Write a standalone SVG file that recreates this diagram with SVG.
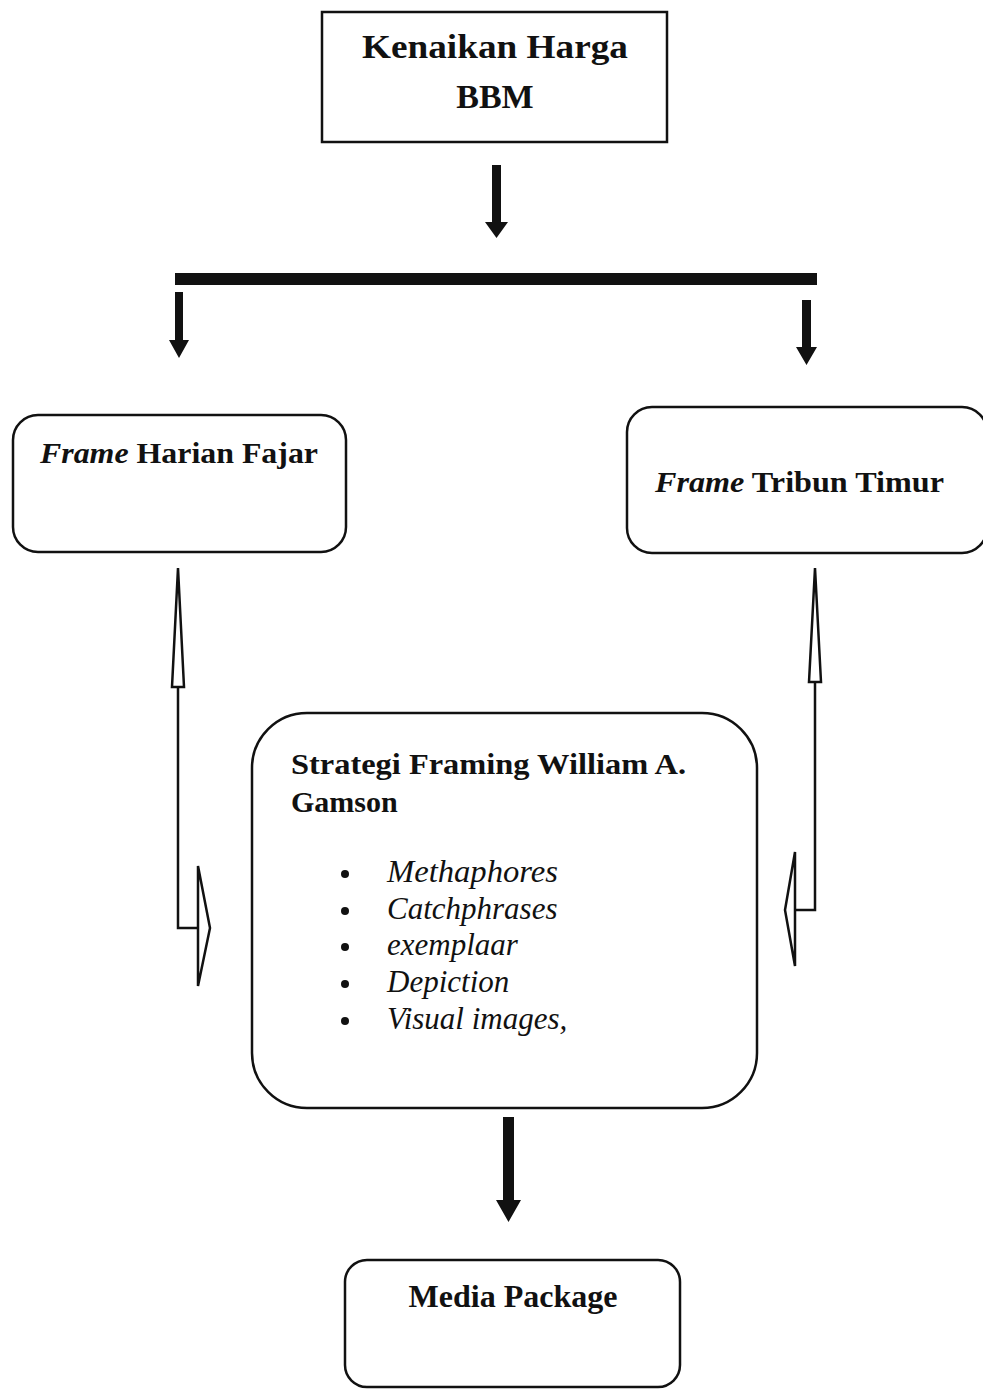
<svg xmlns="http://www.w3.org/2000/svg" width="983" height="1390" viewBox="0 0 983 1390">
<style>
.box{fill:#fff;stroke:#111;stroke-width:2.5}
.t{font-family:"Liberation Serif","Times New Roman",serif;font-weight:bold;fill:#111}
.i{font-family:"Liberation Serif","Times New Roman",serif;font-style:italic;fill:#111}
.solid{fill:#111;stroke:none}
.hollow{fill:#fff;stroke:#111;stroke-width:2.5;stroke-linejoin:miter}
.line{fill:none;stroke:#111;stroke-width:2.5}
</style>
<rect width="983" height="1390" fill="#fff"/>
<g id="connectors">
<path class="solid" d="M492,165 H501 V222 H508 L496.5,238 L485,222 H492 Z"/>
<rect class="solid" x="175" y="273" width="642" height="12"/>
<path class="solid" d="M175,292 H183 V340 H189 L179,358 L169,340 H175 Z"/>
<path class="solid" d="M802,300 H811 V347 H817 L806.5,365 L796,347 H802 Z"/>
<path class="solid" d="M503,1117 H514 V1200 H521 L508.5,1222 L496,1200 H503 Z"/>
<polygon class="hollow" points="178,568 184,687 172,687"/>
<polyline class="line" points="178,687 178,928 198,928"/>
<polygon class="hollow" points="198,866 210,928 198,986"/>
<polygon class="hollow" points="815,568 821,682 809,682"/>
<polyline class="line" points="815,682 815,910 795,910"/>
<polygon class="hollow" points="795,852 785,910 795,966"/>
</g>
<g id="node-kenaikan">
<rect class="box" x="322" y="12" width="345" height="130"/>
<text class="t" x="495" y="58" font-size="34" text-anchor="middle" textLength="266" lengthAdjust="spacingAndGlyphs">Kenaikan Harga</text>
<text class="t" x="495" y="108" font-size="34" text-anchor="middle">BBM</text>
</g>
<g id="node-fajar">
<rect class="box" x="13" y="415" width="333" height="137" rx="25"/>
<text x="40" y="463" font-size="30" textLength="278" lengthAdjust="spacingAndGlyphs"><tspan class="t" font-style="italic">Frame</tspan><tspan class="t"> Harian Fajar</tspan></text>
</g>
<g id="node-tribun">
<rect class="box" x="627" y="407" width="360" height="146" rx="25"/>
<text x="655" y="492" font-size="30" textLength="289" lengthAdjust="spacingAndGlyphs"><tspan class="t" font-style="italic">Frame</tspan><tspan class="t"> Tribun Timur</tspan></text>
</g>
<g id="node-strategi">
<rect class="box" x="252" y="713" width="505" height="395" rx="55"/>
<text class="t" x="291" y="774" font-size="30" textLength="395" lengthAdjust="spacingAndGlyphs">Strategi Framing William A.</text>
<text class="t" x="291" y="812" font-size="30">Gamson</text>
<g fill="#111">
<circle cx="345" cy="874" r="4"/>
<circle cx="345" cy="911" r="4"/>
<circle cx="345" cy="947" r="4"/>
<circle cx="345" cy="984" r="4"/>
<circle cx="345" cy="1021" r="4"/>
</g>
<text class="i" x="387" y="882" font-size="31" textLength="171" lengthAdjust="spacingAndGlyphs">Methaphores</text>
<text class="i" x="387" y="919" font-size="31">Catchphrases</text>
<text class="i" x="387" y="955" font-size="31">exemplaar</text>
<text class="i" x="387" y="992" font-size="31">Depiction</text>
<text class="i" x="387" y="1029" font-size="31">Visual images,</text>
</g>
<g id="node-media">
<rect class="box" x="345" y="1260" width="335" height="127" rx="22"/>
<text class="t" x="513" y="1307" font-size="31" text-anchor="middle" textLength="209" lengthAdjust="spacingAndGlyphs">Media Package</text>
</g>
</svg>
